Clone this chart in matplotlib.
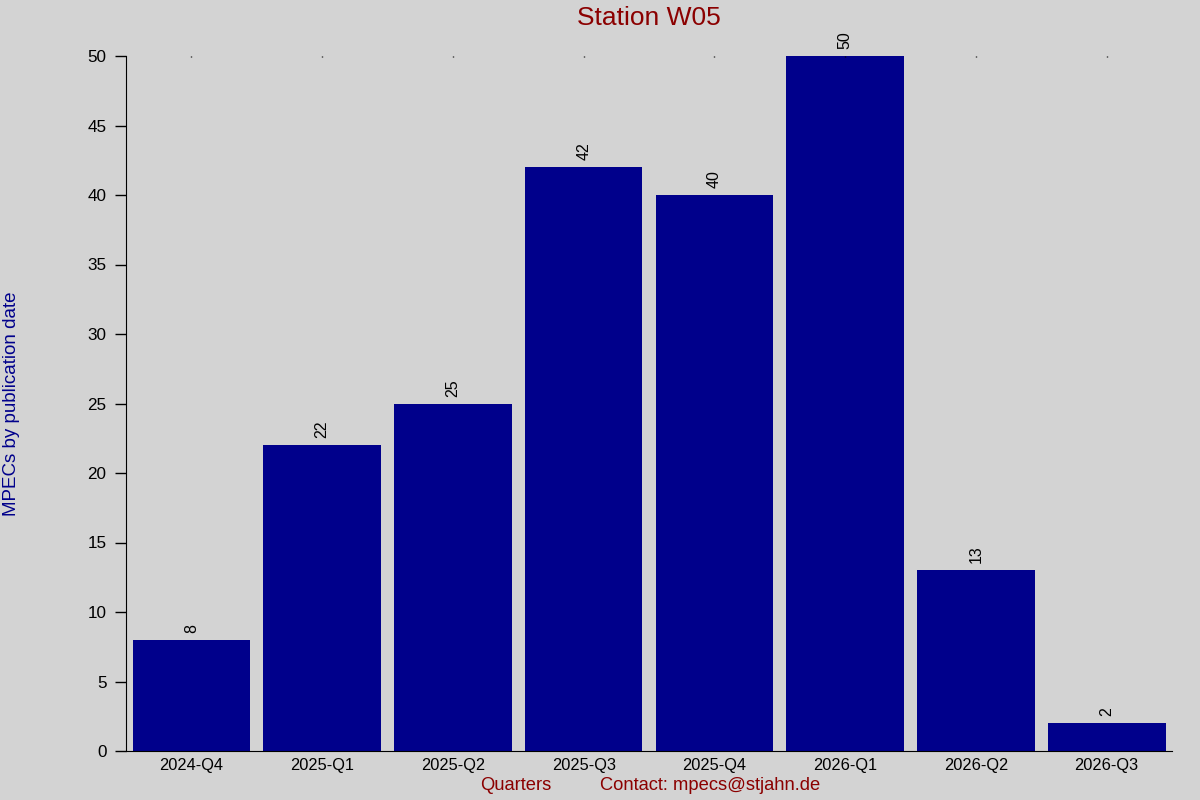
import matplotlib
matplotlib.use('Agg')
import matplotlib.pyplot as plt

quarters = ['2024-Q4', '2025-Q1', '2025-Q2', '2025-Q3',
            '2025-Q4', '2026-Q1', '2026-Q2', '2026-Q3']
counts = [8, 22, 25, 42, 40, 50, 13, 2]

plt.rcParams['font.family'] = ['Liberation Sans', 'DejaVu Sans']

bg = '#d3d3d3'
fig = plt.figure(figsize=(12, 8), dpi=100, facecolor=bg)
ax = fig.add_axes([0.105, 0.06125, 0.8717, 0.86875], facecolor=bg)

x = list(range(len(quarters)))
bars = ax.bar(x, counts, width=0.9, color='#00008b')

for b, v in zip(bars, counts):
    ax.annotate(str(v), (b.get_x() + b.get_width() / 2, v),
                xytext=(0, 5), textcoords='offset points',
                ha='center', va='bottom', rotation=90, fontsize=11.5)

ax.set_xlim(-0.5, 7.5)
ax.set_ylim(0, 50)
ax.set_xticks(x)
ax.set_xticklabels(quarters, fontsize=11.8)
ax.set_yticks(range(0, 51, 5))
ax.tick_params(axis='y', labelsize=12.3, length=8, width=1, pad=6)
ax.tick_params(axis='x', bottom=False, top=True, length=1, width=1, pad=5,
               direction='in')

ax.spines['top'].set_visible(False)
ax.spines['right'].set_visible(False)

ax.set_title('Station W05', color='#8b0000', fontsize=19, pad=22)
fig.text(0.0095, 0.4956, 'MPECs by publication date', color='#00008b',
         fontsize=13.5, rotation=90, ha='center', va='center')
fig.text(0.43, 0.0175, 'Quarters', color='#8b0000', fontsize=13.2,
         ha='center', va='center')
fig.text(0.592, 0.0175, 'Contact: mpecs@stjahn.de', color='#8b0000',
         fontsize=13.2, ha='center', va='center')

plt.savefig('out.png', facecolor=bg)
